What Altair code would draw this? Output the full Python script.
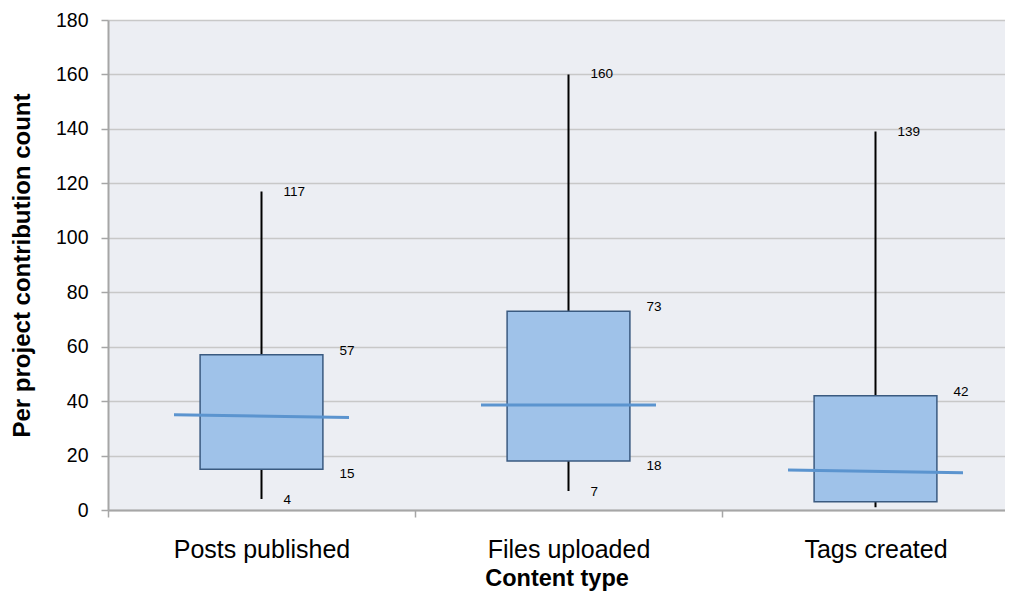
import json
import altair as alt
import pandas as pd

categories = ["Posts published", "Files uploaded", "Tags created"]
whisker_min = [4, 7, 1]
q1 = [15, 18, 3]
q3 = [57, 73, 42]
whisker_max = [117, 160, 139]
median_left = [35, 38.6, 14.7]
median_right = [34, 38.6, 13.7]
show_low_labels = [True, True, False]
y_ticks = [0, 20, 40, 60, 80, 100, 120, 140, 160, 180]

df = pd.DataFrame({
    "category": categories,
    "wmin": whisker_min,
    "q1": q1,
    "q3": q3,
    "wmax": whisker_max,
    "med_l": median_left,
    "med_r": median_right,
    "low": show_low_labels,
})

FONT = "Liberation Sans"
GRID = "#c8c8c8"
AXISC = "#a6a6a6"
W, H = 897, 490
STEP = 307  # pixel width of one category slot

cat_js = json.dumps(categories)
xscale = alt.Scale(domain=[0, W / STEP], nice=False, zero=False)
yscale = alt.Scale(domain=[0, 180], nice=False)

yaxis = alt.Axis(
    values=y_ticks, title="Per project contribution count",
    titleFont=FONT, titleFontSize=24, titleFontWeight="bold", titleColor="black",
    titlePadding=21,
    labelFont=FONT, labelFontSize=19.5, labelColor="black", labelPadding=13,
    tickSize=7, tickColor=AXISC, tickWidth=1.5,
    domainColor=AXISC, domainWidth=2,
    grid=True, gridColor=GRID, gridWidth=1.5,
)

tick_axis = alt.Axis(
    orient="bottom", values=[0, 1, 2], labels=False, ticks=True, tickSize=7,
    tickColor=AXISC, tickWidth=1.5, domain=True, domainColor=AXISC,
    domainWidth=2, grid=False, title=None,
)
label_axis = alt.Axis(
    orient="bottom", values=[0.5, 1.5, 2.5], ticks=False, tickSize=0,
    domain=False, grid=False,
    labelExpr=f"{cat_js}[floor(datum.value)]",
    labelAngle=0, labelPadding=27, labelFont=FONT, labelFontSize=25,
    labelColor="black", labelBaseline="top", labelFlush=False, labelOverlap=False,
    title="Content type", titleFont=FONT, titleFontSize=23.5,
    titleFontWeight="bold", titleColor="black", titlePadding=4,
)


def X(field, axis=None):
    return alt.X(f"{field}:Q", scale=xscale, axis=axis)


def Y(field):
    return alt.Y(f"{field}:Q", scale=yscale, axis=yaxis)


base = alt.Chart(df).transform_calculate(
    idx=f"indexof({cat_js}, datum.category)"
).transform_calculate(
    center="datum.idx + 0.5",
    box_l="datum.idx + 0.3",
    box_r="datum.idx + 0.7",
    med_x1="datum.idx + 0.215",
    med_x2="datum.idx + 0.785",
)
low = base.transform_filter("datum.low")

whisker = base.mark_rule(color="black", strokeWidth=2).encode(
    x=X("center", tick_axis), y=Y("wmin"), y2="wmax:Q"
)
box = base.mark_rect(fill="#9fc2e9", stroke="#3a5a80", strokeWidth=1.5).encode(
    x=X("box_l", label_axis), x2="box_r:Q", y=Y("q1"), y2="q3:Q"
)
median = base.mark_rule(color="#5b94cf", strokeWidth=3).encode(
    x=X("med_x1"), x2="med_x2:Q", y=Y("med_l"), y2="med_r:Q",
)

txt = dict(align="left", baseline="middle", font=FONT, fontSize=13.5, color="black")
t_max = base.mark_text(dx=22, **txt).encode(x=X("center"), y=Y("wmax"), text="wmax:Q")
t_q3 = base.mark_text(dx=78, dy=-4, **txt).encode(x=X("center"), y=Y("q3"), text="q3:Q")
t_q1 = low.mark_text(dx=78, dy=5, **txt).encode(x=X("center"), y=Y("q1"), text="q1:Q")
t_min = low.mark_text(dx=22, dy=1, **txt).encode(x=X("center"), y=Y("wmin"), text="wmin:Q")

chart = alt.layer(whisker, box, median, t_max, t_q3, t_q1, t_min).resolve_axis(
    x="independent"
).properties(
    width=W, height=H,
    autosize=alt.AutoSizeParams(type="none"),
    padding={"left": 100, "top": 12, "right": 0, "bottom": 82},
).configure_view(fill="#eceef3", stroke=None)

chart.save("out.html", embed_options={"renderer": "svg", "actions": False})
